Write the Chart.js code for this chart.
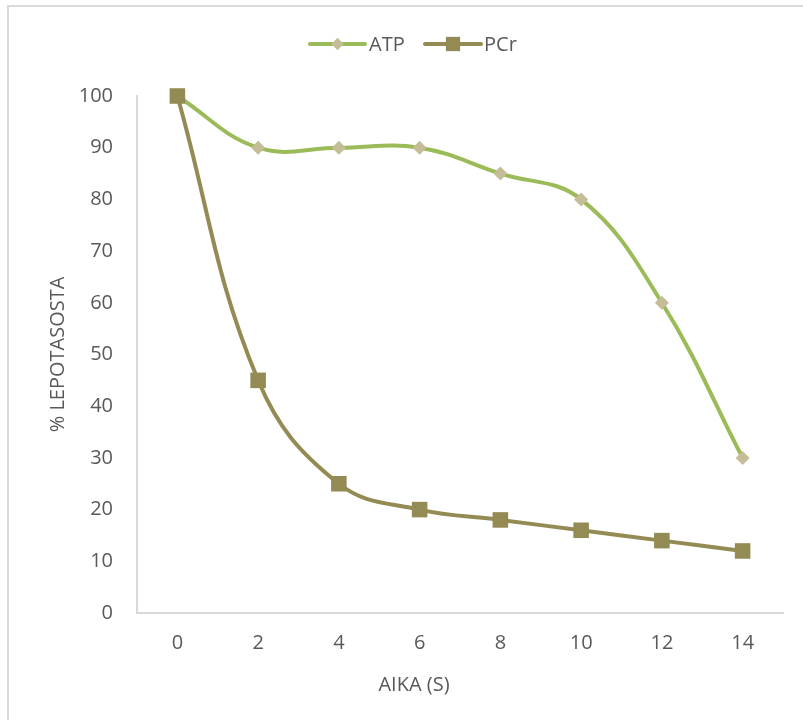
<!DOCTYPE html>
<html>
<head>
<meta charset="utf-8">
<script src="https://cdn.jsdelivr.net/npm/chart.js@4"></script>
<style>
html,body{margin:0;padding:0;background:#fff;}
#wrap{width:803px;height:720px;position:relative;}
</style>
</head>
<body>
<div id="wrap"><canvas id="c" width="803" height="720"></canvas></div>
<script>
const categories = ['0','2','4','6','8','10','12','14'];
const atpValues = [100, 90, 90, 90, 85, 80, 60, 30];
const pcrValues = [100, 45, 25, 20, 18, 16, 14, 12];
const seriesNames = ['ATP', 'PCr'];
const yTitle = '% LEPOTASOSTA';
const xTitle = 'AIKA (S)';

const FONT = "'Open Sans', sans-serif";
const TXT = '#595959';
const ATP_LINE = '#9BBB59', ATP_MARK = '#C4BD97';
const PCR_LINE = '#948A54', PCR_MARK = '#948A54';

const frame = {
  id: 'frame',
  beforeDraw(chart) {
    const ctx = chart.ctx;
    ctx.save();
    ctx.fillStyle = '#fff';
    ctx.fillRect(0, 0, chart.width, chart.height);
    ctx.fillStyle = '#D9D9D9';
    ctx.fillRect(7, 5, chart.width - 7, 2);
    ctx.fillRect(7, 5, 2, chart.height - 5);
    ctx.restore();
  }
};

const legendPlugin = {
  id: 'customLegend',
  afterDraw(chart) {
    const ctx = chart.ctx;
    const y = 44;
    const items = [
      {x0: 310, x1: 365, line: ATP_LINE, mark: ATP_MARK, style: 'rectRot', r: 6, tx: 369, label: chart.data.datasets[0].label},
      {x0: 425, x1: 481, line: PCR_LINE, mark: PCR_MARK, style: 'rect', r: 10, tx: 484, label: chart.data.datasets[1].label}
    ];
    ctx.save();
    items.forEach(it => {
      ctx.strokeStyle = it.line;
      ctx.lineWidth = 4;
      ctx.lineCap = 'round';
      ctx.beginPath();
      ctx.moveTo(it.x0, y);
      ctx.lineTo(it.x1, y);
      ctx.stroke();
      ctx.fillStyle = it.mark;
      Chart.helpers.drawPoint(ctx, {pointStyle: it.style, radius: it.r, borderWidth: 0}, (it.x0 + it.x1) / 2, y);
      ctx.fill();
      ctx.fillStyle = TXT;
      ctx.font = "20px " + FONT;
      ctx.textBaseline = 'middle';
      ctx.textAlign = 'left';
      ctx.fillText(it.label, it.tx, y + 1);
    });
    // x axis title (centered as in the reference)
    ctx.textAlign = 'center';
    ctx.fillText(xTitle, 414, 685);
    ctx.restore();
  }
};

new Chart(document.getElementById('c'), {
  type: 'line',
  data: {
    labels: categories,
    datasets: [
      {
        label: seriesNames[0], data: atpValues,
        borderColor: ATP_LINE, borderWidth: 4,
        pointStyle: 'rectRot', pointRadius: 7, pointHoverRadius: 7,
        pointBackgroundColor: ATP_MARK, pointBorderColor: ATP_MARK, pointBorderWidth: 0,
        tension: 0.4, fill: false, order: 2, clip: false
      },
      {
        label: seriesNames[1], data: pcrValues,
        borderColor: PCR_LINE, borderWidth: 4,
        pointStyle: 'rect', pointRadius: 11, pointHoverRadius: 11,
        pointBackgroundColor: PCR_MARK, pointBorderColor: PCR_MARK, pointBorderWidth: 0,
        tension: 0.4, fill: false, order: 1, clip: false
      }
    ]
  },
  options: {
    responsive: false,
    animation: false,
    events: [],
    layout: { padding: { top: 96, left: 46, right: 20, bottom: 26 } },
    plugins: { legend: { display: false }, tooltip: { enabled: false } },
    scales: {
      x: {
        type: 'category',
        offset: true,
        grid: { display: false, drawTicks: false },
        border: { display: true, color: '#D9D9D9', width: 2 },
        ticks: { color: TXT, font: { family: FONT, size: 20 }, padding: 18, maxRotation: 0 },
        title: { display: false, text: xTitle },
        afterFit(s) { s.height = 81; }
      },
      y: {
        min: 0, max: 100,
        grid: { display: false, drawTicks: false },
        border: { display: true, color: '#D9D9D9', width: 2 },
        ticks: { stepSize: 10, color: TXT, font: { family: FONT, size: 20 }, padding: 24 },
        title: { display: true, text: yTitle, color: TXT, font: { family: FONT, size: 20 }, padding: 0 },
        afterFit(s) { s.width = 91; }
      }
    }
  },
  plugins: [frame, legendPlugin]
});
</script>
</body>
</html>
